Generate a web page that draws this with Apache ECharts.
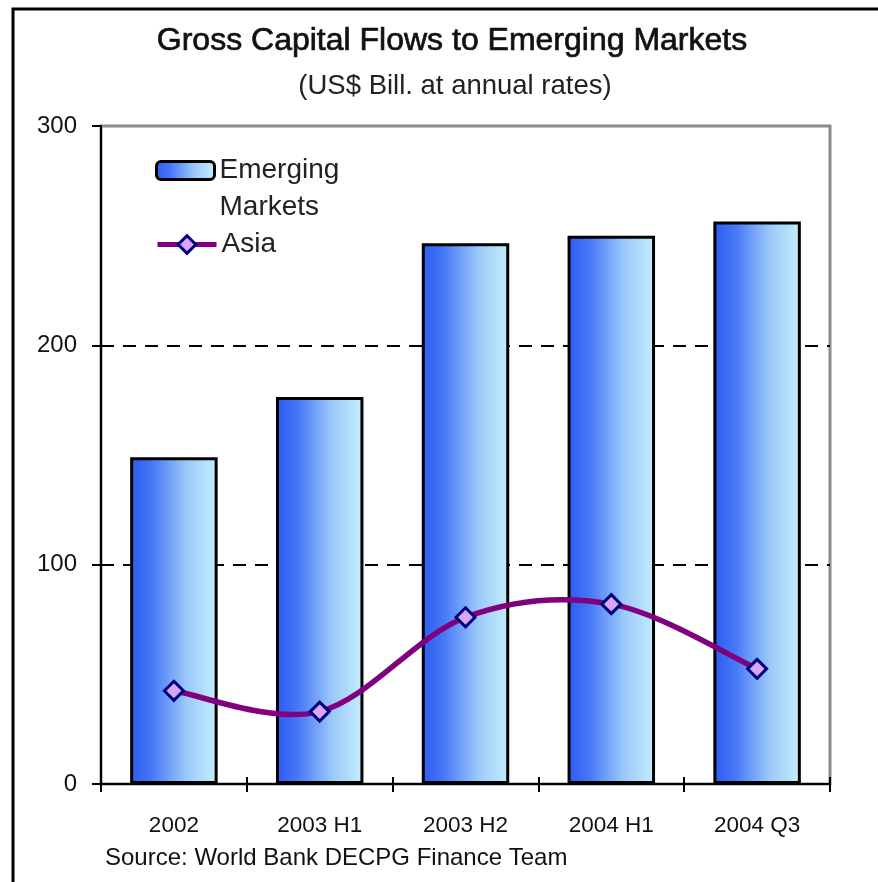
<!DOCTYPE html>
<html>
<head>
<meta charset="utf-8">
<script src="https://cdn.jsdelivr.net/npm/echarts@6/dist/echarts.min.js"></script>
<style>
  html, body { margin: 0; padding: 0; background: #fff; }
  #chart { width: 878px; height: 882px; }
</style>
</head>
<body>
<div id="chart"></div>
<script>
// Periods on the category axis
const periods = ['2002', '2003 H1', '2003 H2', '2004 H1', '2004 Q3'];
// Gross capital flows, US$ billions at annual rates
const emergingMarkets = [149, 176.5, 246.5, 250, 256.5];
const asia = [42.5, 33, 76, 82, 52.5];
// Value axis ticks
const yTicks = [0, 100, 200, 300];

const FONT = "'Liberation Sans', Arial, sans-serif";

const chart = echarts.init(document.getElementById('chart'), null, { renderer: 'canvas' });

const barFill = new echarts.graphic.LinearGradient(0, 0, 1, 0, [
  { offset: 0, color: '#2c5af2' },
  { offset: 0.25, color: '#4677f6' },
  { offset: 0.65, color: '#9ccafa' },
  { offset: 1, color: '#c4effc' }
]);

// Smooth cardinal-spline segment between point i and i+1 (tension 1/6),
// with the neighbouring points taken through the chart's own coordinate system.
function renderAsiaSegment(params, api) {
  const i = params.dataIndex;
  if (i >= asia.length - 1) return null;
  const pt = (j) => {
    const k = Math.max(0, Math.min(asia.length - 1, j));
    return api.coord([k, asia[k]]);
  };
  const p0 = pt(i - 1), p1 = pt(i), p2 = pt(i + 1), p3 = pt(i + 2);
  return {
    type: 'bezierCurve',
    shape: {
      x1: p1[0], y1: p1[1],
      cpx1: p1[0] + (p2[0] - p0[0]) / 6, cpy1: p1[1] + (p2[1] - p0[1]) / 6,
      cpx2: p2[0] - (p3[0] - p1[0]) / 6, cpy2: p2[1] - (p3[1] - p1[1]) / 6,
      x2: p2[0], y2: p2[1]
    },
    style: { stroke: '#800080', lineWidth: 5.5, fill: null, lineCap: 'round' }
  };
}

chart.setOption({
  animation: false,
  backgroundColor: '#ffffff',
  grid: {
    left: 101, top: 126, right: 48, bottom: 98,
    show: true, borderColor: '#8c8c8c', borderWidth: 3, backgroundColor: 'transparent'
  },
  legend: [
    {
      orient: 'vertical',
      left: 155,
      top: 115,
      padding: 0,
      itemWidth: 58,
      itemHeight: 18,
      textStyle: { fontFamily: FONT, fontSize: 28, color: '#222', lineHeight: 37 },
      data: [{ name: 'Emerging Markets', itemStyle: { borderColor: '#000', borderWidth: 3 } }],
      formatter: function () { return '\u00a0\nEmerging\nMarkets'; }
    },
    {
      orient: 'vertical',
      left: 155,
      top: 226,
      padding: 0,
      itemWidth: 59,
      itemHeight: 22,
      textStyle: { fontFamily: FONT, fontSize: 28, color: '#222', lineHeight: 37 },
      lineStyle: { color: '#800080', width: 5, opacity: 1 },
      itemStyle: { borderColor: '#000080', borderWidth: 3 },
      data: ['Asia']
    }
  ],
  xAxis: [
    {
      type: 'category',
      data: periods,
      boundaryGap: true,
      axisLine: { show: true, lineStyle: { color: '#000', width: 2 } },
      axisTick: { show: true, length: 8, lineStyle: { color: '#000', width: 2 } },
      axisLabel: { fontFamily: FONT, fontSize: 22.5, color: '#111', margin: 30 }
    },
    {
      // inner half of the crossing tick marks
      type: 'category',
      data: periods,
      position: 'bottom',
      boundaryGap: true,
      axisLine: { show: false },
      axisTick: { show: true, inside: true, length: 7, lineStyle: { color: '#000', width: 2 } },
      axisLabel: { show: false }
    }
  ],
  yAxis: {
    type: 'value',
    min: yTicks[0],
    max: yTicks[yTicks.length - 1],
    interval: 100,
    axisLine: { show: true, lineStyle: { color: '#000', width: 2 } },
    axisTick: { show: true, length: 9, lineStyle: { color: '#000', width: 2 } },
    axisLabel: { fontFamily: FONT, fontSize: 24, color: '#111', margin: 24 },
    splitLine: {
      show: true, showMinLine: false, showMaxLine: false,
      lineStyle: { color: '#000', width: 2, type: [13, 9] }
    }
  },
  series: [
    {
      name: 'Emerging Markets',
      type: 'bar',
      data: emergingMarkets,
      barWidth: '60%',
      itemStyle: { color: barFill, borderColor: '#000', borderWidth: 3 }
    },
    {
      name: 'Asia curve',
      type: 'custom',
      data: asia,
      renderItem: renderAsiaSegment,
      silent: true,
      z: 4
    },
    {
      name: 'Asia',
      type: 'line',
      data: asia,
      symbol: 'diamond',
      symbolSize: 19,
      lineStyle: { color: '#800080', width: 5, opacity: 0 },
      itemStyle: { color: '#d9a6f7', borderColor: '#000080', borderWidth: 3 },
      z: 5
    }
  ],
  graphic: [
    {
      type: 'rect',
      shape: { x: 13, y: 9, width: 900, height: 900 },
      style: { fill: 'none', stroke: '#000', lineWidth: 3 },
      silent: true
    },
    {
      type: 'text',
      x: 452, y: 41,
      style: {
        text: 'Gross Capital Flows to Emerging Markets',
        font: '32px ' + FONT,
        fill: '#111', stroke: '#111', lineWidth: 0.7,
        align: 'center', verticalAlign: 'middle'
      }
    },
    {
      type: 'text',
      x: 455, y: 86,
      style: {
        text: '(US$ Bill. at annual rates)',
        font: '27.5px ' + FONT,
        fill: '#222', align: 'center', verticalAlign: 'middle'
      }
    },
    {
      type: 'text',
      x: 105, y: 858,
      style: {
        text: 'Source: World Bank DECPG Finance Team',
        font: '24px ' + FONT,
        fill: '#111', align: 'left', verticalAlign: 'middle'
      }
    }
  ]
});
</script>
</body>
</html>
